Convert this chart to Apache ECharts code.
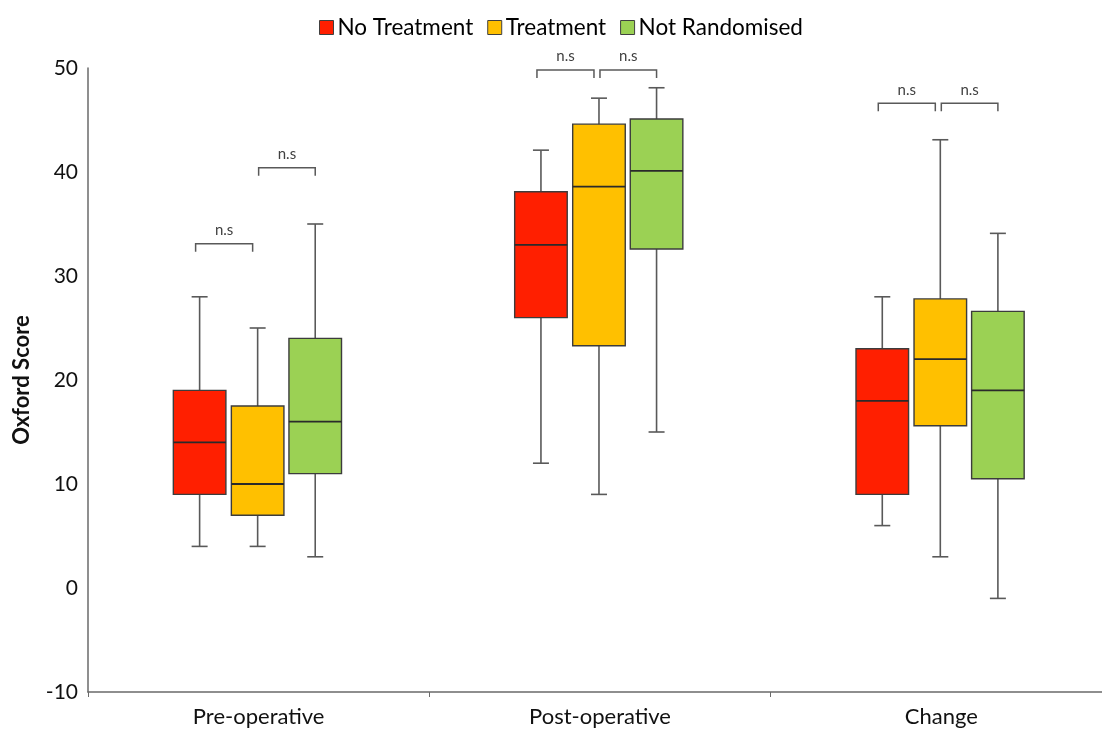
<!DOCTYPE html>
<html>
<head>
<meta charset="utf-8">
<script src="https://cdn.jsdelivr.net/npm/echarts@6/dist/echarts.min.js"></script>
<style>
  html, body { margin: 0; padding: 0; background: #fff; overflow: hidden; }
  #chart { width: 1102px; height: 731px; }
</style>
</head>
<body>
<div id="chart"></div>
<script>
// Time points on the x axis
const categories = ['Pre-operative', 'Post-operative', 'Change'];
const groupNames = ['No Treatment', 'Treatment', 'Not Randomised'];
const groupColors = ['#ff1f00', '#ffc000', '#9bd154'];

// Five-number summaries per time point: [min, Q1, median, Q3, max]
const noTreatment = [
  [4, 9, 14, 19, 28],
  [12, 26, 33, 38.1, 42.1],
  [6, 9, 18, 23, 28]
];
const treatment = [
  [4, 7, 10, 17.5, 25],
  [9, 23.3, 38.6, 44.6, 47.1],
  [3, 15.6, 22, 27.8, 43.1]
];
const notRandomised = [
  [3, 11, 16, 24, 35],
  [15, 32.6, 40.1, 45.1, 48.1],
  [-1, 10.5, 19, 26.6, 34.1]
];

// Y axis range and tick step
const yMin = -10, yMax = 50, yStep = 10;

// Significance brackets: [time point, from group, to group, level, label]
const brackets = [
  [0, 0, 1, 33.1, 'n.s'],
  [0, 1, 2, 40.4, 'n.s'],
  [1, 0, 1, 49.8, 'n.s'],
  [1, 1, 2, 49.8, 'n.s'],
  [2, 0, 1, 46.6, 'n.s'],
  [2, 1, 2, 46.6, 'n.s']
];

// Box placement within a category band (fractions of band width)
const BOX_OFFSETS = [-0.173, -0.003, 0.1657];
const BOX_WIDTH = 0.154;
const CAP_HALF = 8;

function boxRenderer(groupIdx) {
  return function (params, api) {
    const cat = api.value(0);
    const band = api.size([1, 0])[0];
    const cx = api.coord([cat, 0])[0] + band * BOX_OFFSETS[groupIdx];
    const w = band * BOX_WIDTH;
    const y = (i) => api.coord([cat, api.value(i)])[1];
    const pMin = y(1), pQ1 = y(2), pMed = y(3), pQ3 = y(4), pMax = y(5);
    const whisker = { stroke: '#595959', lineWidth: 1.6 };
    return {
      type: 'group',
      children: [
        { type: 'line', shape: { x1: cx, y1: pMax, x2: cx, y2: pQ3 }, style: whisker },
        { type: 'line', shape: { x1: cx, y1: pQ1, x2: cx, y2: pMin }, style: whisker },
        { type: 'line', shape: { x1: cx - CAP_HALF, y1: pMax, x2: cx + CAP_HALF, y2: pMax }, style: whisker },
        { type: 'line', shape: { x1: cx - CAP_HALF, y1: pMin, x2: cx + CAP_HALF, y2: pMin }, style: whisker },
        {
          type: 'rect',
          shape: { x: cx - w / 2, y: pQ3, width: w, height: pQ1 - pQ3 },
          style: { fill: groupColors[groupIdx], stroke: '#3c3c3c', lineWidth: 1.4 }
        },
        { type: 'line', shape: { x1: cx - w / 2, y1: pMed, x2: cx + w / 2, y2: pMed },
          style: { stroke: '#2a2a2a', lineWidth: 1.8 } }
      ]
    };
  };
}

function bracketRenderer(params, api) {
  const cat = api.value(0);
  const from = api.value(1), to = api.value(2);
  const band = api.size([1, 0])[0];
  const center = api.coord([cat, 0])[0];
  const x1 = center + band * BOX_OFFSETS[from] + (from === 0 ? -4 : 1);
  const x2 = center + band * BOX_OFFSETS[to] + (to === 1 ? -5 : 0);
  const py = api.coord([cat, api.value(3)])[1];
  const label = brackets[params.dataIndex][4];
  return {
    type: 'group',
    children: [
      {
        type: 'polyline',
        shape: { points: [[x1, py + 8], [x1, py], [x2, py], [x2, py + 8]] },
        style: { stroke: '#595959', lineWidth: 1.5, fill: null }
      },
      {
        type: 'text',
        style: {
          x: (x1 + x2) / 2, y: py - 6, text: label,
          fill: '#404040', font: '15px Lato, sans-serif',
          align: 'center', verticalAlign: 'bottom'
        }
      }
    ]
  };
}

function toRows(list) {
  return list.map((v, i) => [i].concat(v));
}

const groupData = [noTreatment, treatment, notRandomised];

const series = groupData.map((g, idx) => ({
  name: groupNames[idx],
  type: 'custom',
  renderItem: boxRenderer(idx),
  itemStyle: { color: groupColors[idx] },
  encode: { x: 0, y: [1, 2, 3, 4, 5] },
  data: toRows(g),
  clip: false,
  z: 2
}));

series.push({
  name: 'brackets',
  type: 'custom',
  renderItem: bracketRenderer,
  encode: { x: 0, y: 3 },
  data: brackets.map(b => [b[0], b[1], b[2], b[3]]),
  clip: false,
  silent: true,
  z: 3
});

const chart = echarts.init(document.getElementById('chart'));
chart.setOption({
  animation: false,
  backgroundColor: '#ffffff',
  textStyle: { fontFamily: 'Lato, sans-serif' },
  legend: {
    data: groupNames,
    left: 314,
    top: 11,
    itemWidth: 14,
    itemHeight: 14,
    itemGap: 14,
    icon: 'rect',
    itemStyle: { borderColor: '#404040', borderWidth: 1 },
    textStyle: { fontSize: 22.5, color: '#000', fontFamily: 'Lato, sans-serif', padding: [0, 0, 0, -1] }
  },
  // the plot area runs a little past the right edge of the canvas
  grid: {
    left: 88, width: 1024, top: 68, bottom: 39,
    containLabel: false, outerBoundsMode: 'none'
  },
  xAxis: {
    type: 'category',
    data: categories,
    axisLine: { onZero: false, lineStyle: { color: '#6a6a6a', width: 1.5 } },
    axisTick: { show: true, length: 5, lineStyle: { color: '#6a6a6a' } },
    axisLabel: { fontSize: 22, color: '#111', margin: 14, fontFamily: 'Lato, sans-serif' },
    splitLine: { show: false }
  },
  yAxis: {
    type: 'value',
    min: yMin,
    max: yMax,
    interval: yStep,
    name: 'Oxford Score',
    nameLocation: 'middle',
    nameGap: 55,
    nameTextStyle: { fontSize: 22, fontWeight: 'bold', color: '#111', fontFamily: 'Lato, sans-serif' },
    axisLine: { show: true, lineStyle: { color: '#6a6a6a', width: 1.5 } },
    axisTick: { show: false },
    axisLabel: { fontSize: 21, color: '#111', margin: 10, fontFamily: 'Lato, sans-serif' },
    splitLine: { show: false }
  },
  series: series
});
</script>
</body>
</html>
